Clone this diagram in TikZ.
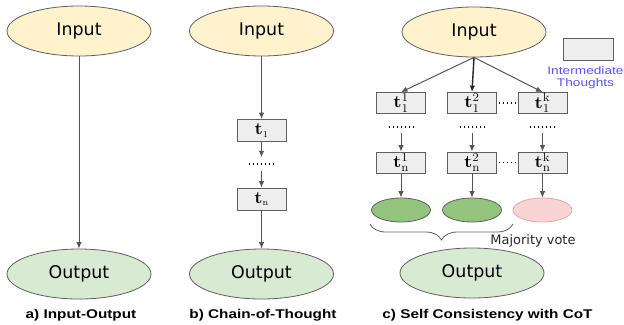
\documentclass[tikz,border=0pt]{standalone}
\usepackage[no-math]{fontspec}
\setmainfont{DejaVu Sans}
\newfontfamily\capfont{Liberation Sans}
\usetikzlibrary{shapes.geometric,arrows.meta,decorations.pathreplacing}
\definecolor{inyellow}{HTML}{FFF2CC}
\definecolor{outgreen}{HTML}{D9EAD3}
\definecolor{midgreen}{HTML}{93C47D}
\definecolor{pinkfill}{HTML}{F8D4D4}
\definecolor{pinkedge}{HTML}{EFA3A3}
\definecolor{edgegray}{HTML}{5F5F5F}
\definecolor{boxfill}{HTML}{EEEEEE}
\definecolor{arrgray}{HTML}{555555}
\definecolor{legblue}{HTML}{5555F5}
\newcommand\wtxt[2]{\scalebox{#1}[1]{#2}}
\begin{document}
\begin{tikzpicture}[x=1bp,y=-1bp,
  bigell/.style={ellipse, draw=edgegray, line width=0.8bp, minimum width=144bp, minimum height=50bp, inner sep=0pt, font=\fontsize{17.5}{17.5}\selectfont},
  inell/.style={bigell, fill=inyellow},
  outell/.style={bigell, fill=outgreen},
  smallell/.style={ellipse, draw=edgegray, line width=0.8bp, minimum width=59bp, minimum height=24bp, inner sep=0pt},
  greenell/.style={smallell, fill=midgreen},
  pinkell/.style={smallell, draw=pinkedge, fill=pinkfill},
  tbox/.style={rectangle, draw=edgegray, fill=boxfill, line width=0.8bp, minimum width=49bp, minimum height=22bp, inner sep=0pt, font=\fontsize{18}{18}\selectfont},
  dotsnode/.style={inner sep=0pt, minimum width=24bp, minimum height=13bp},
  dotline/.style={draw=black, line width=1.1bp, dash pattern=on 1.1bp off 2.9bp},
  arr/.style={draw=arrgray, line width=1bp, -{Latex[length=6.5bp,width=5.5bp]}},
  arrdark/.style={draw=black!85, line width=1.4bp, -{Latex[length=6.5bp,width=5.5bp]}},
  captext/.style={font=\capfont\bfseries\fontsize{12.7}{12.7}\selectfont, text=black},
  legtext/.style={font=\capfont\fontsize{11}{12}\selectfont, text=legblue, align=center},
  mvtext/.style={font=\fontsize{13}{13}\selectfont, text=black!85},
  bracestyle/.style={draw=edgegray, line width=0.8bp, decorate, decoration={brace, mirror, amplitude=16bp}}
]
\useasboundingbox (0,0) rectangle (624,324);

% ---------- panel a ----------
\node[inell] (inA) at (79,31) {Input};
\node[outell] (outA) at (79,274) {Output};
\draw[arr] (inA) -- (outA);
\node[captext] (capA) at (81,315) {\wtxt{1.21}{a) Input-Output}};

% ---------- panel b ----------
\node[inell] (inB) at (261.5,31) {Input};
\node[tbox] (b1) at (261.5,130.5) {\wtxt{1.1}{$\mathbf{t}_{\scriptscriptstyle 1}$}};
\node[dotsnode] (bd) at (261.5,164) {};
\node[tbox] (bn) at (261.5,199) {\wtxt{1.1}{$\mathbf{t}_{\scriptscriptstyle \mathrm{n}}$}};
\node[outell] (outB) at (261.5,274) {Output};
\draw[dotline] (bd.west) -- (bd.east);
\draw[arr] (inB) -- (b1);
\draw[arr] (b1) -- (bd);
\draw[arr] (bd) -- (bn);
\draw[arr] (bn) -- (outB);
\node[captext] (capB) at (263,315) {\wtxt{1.21}{b) Chain-of-Thought}};

% ---------- panel c ----------
\node[inell] (inC) at (474,32) {Input};
\node[tbox, minimum height=21bp] (c11) at (401,103) {\wtxt{1.1}{$\mathbf{t}^{1}_{1}$}};
\node[tbox, minimum height=21bp] (c21) at (472,103) {\wtxt{1.1}{$\mathbf{t}^{2}_{1}$}};
\node[tbox, minimum height=21bp] (c31) at (542.5,103) {\wtxt{1.1}{$\mathbf{t}^{\mathrm{k}}_{1}$}};
\node[dotsnode, minimum height=12bp] (cd1) at (401,127) {};
\node[dotsnode, minimum height=12bp] (cd2) at (472,127) {};
\node[dotsnode, minimum height=12bp] (cd3) at (542.5,127) {};
\node[tbox, minimum height=21bp] (c1n) at (401,162.5) {\wtxt{1.1}{$\mathbf{t}^{1}_{\mathrm{n}}$}};
\node[tbox, minimum height=21bp] (c2n) at (472,162.5) {\wtxt{1.1}{$\mathbf{t}^{2}_{\mathrm{n}}$}};
\node[tbox, minimum height=21bp] (c3n) at (542.5,162.5) {\wtxt{1.1}{$\mathbf{t}^{\mathrm{k}}_{\mathrm{n}}$}};
\node[greenell] (e1) at (401,210) {};
\node[greenell] (e2) at (472,210) {};
\node[pinkell] (e3) at (542.5,210) {};
\node[outell] (outC) at (472,273) {Output};

\draw[arr] (inC.south) -- (c11.north);
\draw[arrdark] (inC.south) -- (c21.north);
\draw[arr] (inC.south) -- (c31.north);
\foreach \i in {1,2,3}{
  \draw[dotline] (cd\i.west) -- (cd\i.east);
}
\draw[arr] (cd1) -- (c1n);
\draw[arr] (cd2) -- (c2n);
\draw[arr] (cd3) -- (c3n);
\draw[arr] (c1n) -- (e1);
\draw[arr] (c2n) -- (e2);
\draw[arr] (c3n) -- (e3);
\draw[dotline, shorten <=2bp, shorten >=2bp] (c21.east) -- (c31.west);
\draw[dotline, shorten <=2bp, shorten >=2bp] (c2n.east) -- (c3n.west);

\coordinate (brL) at (370,224);
\coordinate (brR) at (513,224);
\draw[bracestyle] (brL) -- (brR);
\node[mvtext] (mv) at (533,241) {Majority vote};

% legend
\node[tbox, minimum width=50bp, minimum height=22bp] (leg) at (588,49) {};
\node[legtext] (legt) at (585.5,77.5) {\wtxt{1.25}{Intermediate}\\\wtxt{1.25}{Thoughts}};

\node[captext] (capC) at (487.5,315) {\wtxt{1.21}{c) Self Consistency with CoT}};
\end{tikzpicture}
\end{document}
